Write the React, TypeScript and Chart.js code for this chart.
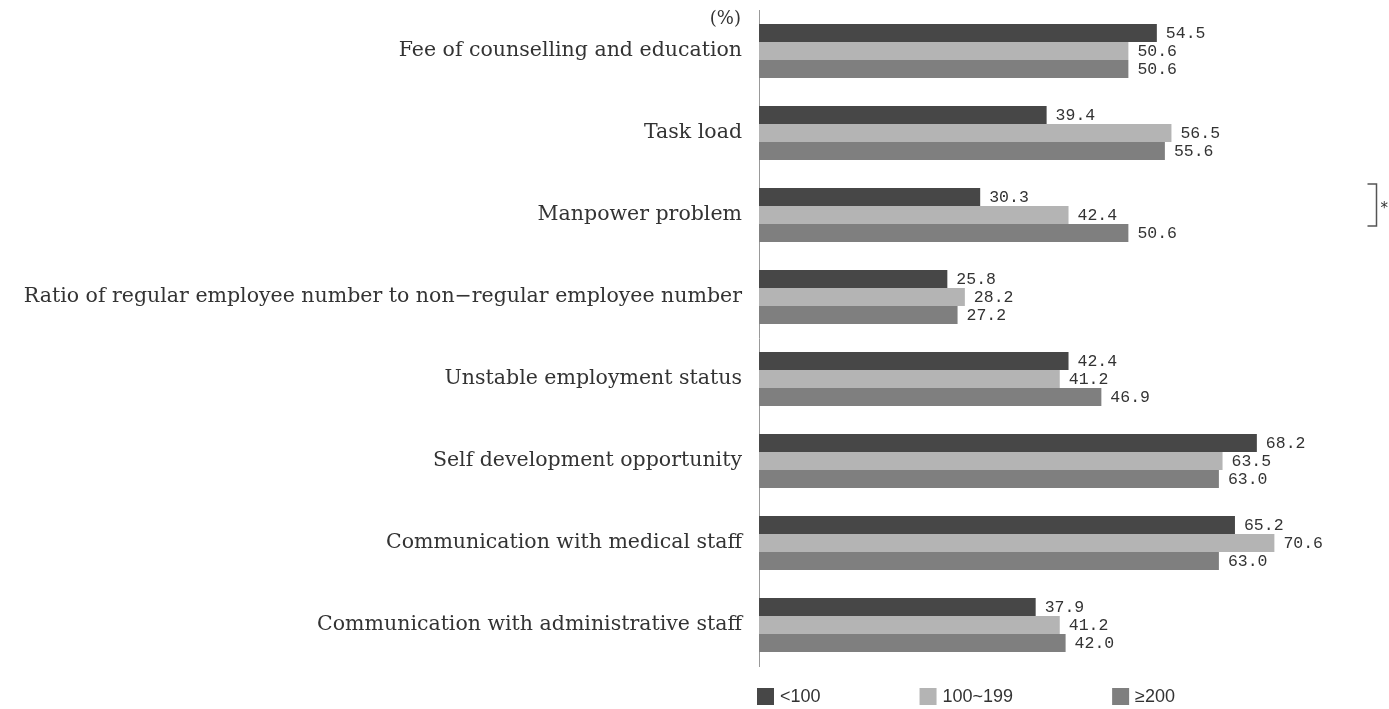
import React, { useEffect, useRef } from "react";
import { Chart, registerables } from "chart.js";

Chart.register(...registerables);

const categories = [
  "Fee of counselling and education",
  "Task load",
  "Manpower problem",
  "Ratio of regular employee number to non\u2212regular employee number",
  "Unstable employment status",
  "Self development opportunity",
  "Communication with medical staff",
  "Communication with administrative staff",
];

const seriesLabels = ["<100", "100~199", "\u2265200"];

const under100 = [54.5, 39.4, 30.3, 25.8, 42.4, 68.2, 65.2, 37.9];
const from100to199 = [50.6, 56.5, 42.4, 28.2, 41.2, 63.5, 70.6, 41.2];
const from200 = [50.6, 55.6, 50.6, 27.2, 46.9, 63.0, 63.0, 42.0];

const seriesColors = ["#474747", "#b4b4b4", "#7f7f7f"];

const unitLabel = "(%)";
const significanceCategory = 2;
const significanceMark = "*";

const valueLabelPlugin = {
  id: "valueLabels",
  afterDatasetsDraw(chart: any) {
    const ctx = chart.ctx;
    ctx.save();
    ctx.font = "16.5px 'Liberation Mono', monospace";
    ctx.fillStyle = "#333333";
    ctx.textAlign = "left";
    ctx.textBaseline = "middle";
    chart.data.datasets.forEach((ds: any, di: number) => {
      const meta = chart.getDatasetMeta(di);
      meta.data.forEach((el: any, i: number) => {
        const v = ds.data[i] as number;
        ctx.fillText(v.toFixed(1), el.x + 9, el.y + 1);
      });
    });
    ctx.restore();
  },
};

const extrasPlugin = {
  id: "extras",
  afterDraw(chart: any) {
    const ctx = chart.ctx;
    const area = chart.chartArea;
    const yScale = chart.scales.y;
    ctx.save();
    // unit label
    ctx.font = "18px 'DejaVu Serif', serif";
    ctx.fillStyle = "#333333";
    ctx.textAlign = "right";
    ctx.textBaseline = "middle";
    ctx.fillText(unitLabel, area.left - 18, area.top + 9);

    // significance bracket
    const cy = yScale.getPixelForValue(significanceCategory);
    const top = cy - 31;
    const bottom = cy + 11;
    const bx = area.right - 3;
    ctx.strokeStyle = "#555555";
    ctx.lineWidth = 1.5;
    ctx.beginPath();
    ctx.moveTo(bx - 9, top);
    ctx.lineTo(bx, top);
    ctx.lineTo(bx, bottom);
    ctx.lineTo(bx - 9, bottom);
    ctx.stroke();
    ctx.font = "15px 'DejaVu Sans', sans-serif";
    ctx.textAlign = "left";
    ctx.textBaseline = "alphabetic";
    ctx.fillStyle = "#333333";
    ctx.fillText(significanceMark, bx + 4, (top + bottom) / 2 + 8);

    // legend
    ctx.font = "18px 'Liberation Sans', sans-serif";
    ctx.textBaseline = "middle";
    ctx.textAlign = "left";
    const box = 17;
    const ly = area.bottom + 22;
    let x = area.left - 2;
    chart.data.datasets.forEach((ds: any) => {
      ctx.fillStyle = ds.backgroundColor;
      ctx.fillRect(x, ly, box, box);
      ctx.fillStyle = "#333333";
      const tx = x + box + 6;
      ctx.fillText(ds.label, tx, ly + box / 2 + 1);
      x = tx + ctx.measureText(ds.label).width + 99;
    });
    ctx.restore();
  },
};

export default function App() {
  const canvasRef = useRef<HTMLCanvasElement | null>(null);

  useEffect(() => {
    if (!canvasRef.current) return;
    const seriesValues = [under100, from100to199, from200];
    const chart = new Chart(canvasRef.current, {
      type: "bar",
      data: {
        labels: categories,
        datasets: seriesValues.map((vals, i) => ({
          label: seriesLabels[i],
          data: vals,
          backgroundColor: seriesColors[i],
          borderWidth: 0,
          barPercentage: 1,
          categoryPercentage: 54 / 82,
        })),
      },
      options: {
        indexAxis: "y",
        responsive: true,
        maintainAspectRatio: false,
        animation: false,
        layout: { padding: { top: 2, bottom: 43, left: 0, right: 9.5 } },
        scales: {
          x: { display: false, min: 0, max: 85 },
          y: {
            grid: { display: false, drawTicks: false },
            border: { display: true, color: "#999999", width: 1 },
            ticks: {
              padding: 17,
              color: "#333333",
              font: { family: "'DejaVu Serif', serif", size: 20.5 },
            },
            afterFit(scale: any) {
              scale.width = 751;
              scale.paddingTop = 0;
              scale.paddingBottom = 0;
            },
          },
        },
        plugins: {
          legend: { display: false },
          tooltip: { enabled: false },
        },
      },
      plugins: [valueLabelPlugin, extrasPlugin],
    });
    return () => chart.destroy();
  }, []);

  return (
    <div
      style={{
        position: "fixed",
        left: 8,
        top: 8,
        width: 1381,
        height: 701,
      }}
    >
      <canvas ref={canvasRef} />
    </div>
  );
}
